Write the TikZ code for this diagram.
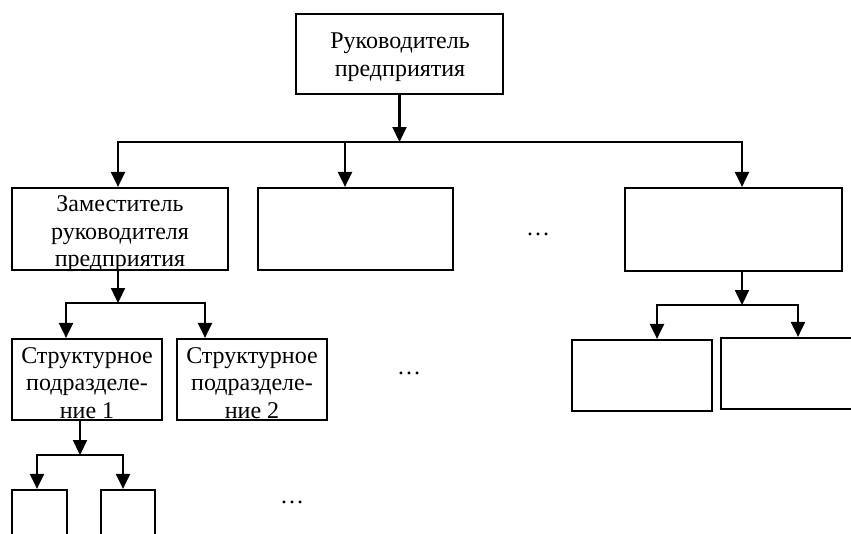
\documentclass[tikz,border=0pt]{standalone}
\usepackage{fontspec}
\setmainfont{Liberation Serif}
\usetikzlibrary{arrows.meta}
\begin{document}
\begin{tikzpicture}[x=1pt,y=-1pt,
  box/.style={draw, line width=2.2pt, inner sep=0pt},
  txt/.style={align=center, inner sep=0pt, font=\fontsize{24}{27.5}\selectfont},
  conn/.style={line width=2.2pt},
  arr/.style={conn, -{Triangle[width=14pt,length=15pt]}},
  dotsnode/.style={inner sep=0pt, font=\fontsize{24}{27.5}\selectfont}]
\useasboundingbox (0,0) rectangle (851,533);
\clip (0,0) rectangle (851,533);
% boxes
\node[box, minimum width=207pt, minimum height=80pt] (top) at (399.5,54) {};
\node[box, minimum width=216pt, minimum height=82pt] (b1) at (120,229) {};
\node[box, minimum width=195pt, minimum height=82pt] (b2) at (355.5,229) {};
\node[box, minimum width=217pt, minimum height=83pt] (b3) at (733.5,229.5) {};
\node[box, minimum width=150pt, minimum height=81pt] (s1) at (87,379.5) {};
\node[box, minimum width=150pt, minimum height=81pt] (s2) at (252,379.5) {};
\node[box, minimum width=55pt, minimum height=70pt] (t1) at (39.5,525) {};
\node[box, minimum width=54pt, minimum height=70pt] (t2) at (128,525) {};
\node[box, minimum width=140pt, minimum height=71pt] (r1) at (642,375.5) {};
\node[box, minimum width=179pt, minimum height=71pt] (r2) at (810.5,373.5) {};
% texts
\node[txt] (toptxt) at (400,57) {Руководитель\\предприятия};
\node[txt] (b1txt) at (120,234) {Заместитель\\руководителя\\предприятия};
\node[txt] (s1txt) at (87,383) {Структурное\\подразделе-\\ние 1};
\node[txt] (s2txt) at (252,383) {Структурное\\подразделе-\\ние 2};
\node[dotsnode] (e1) at (538,234) {…};
\node[dotsnode] (e2) at (409,373) {…};
\node[dotsnode] (e3) at (292,502) {…};
% connectors level 1
\coordinate (j0) at (399.5,142);
\coordinate (h1) at (118,142);
\coordinate (h2) at (345,142);
\coordinate (h3) at (742,142);
\draw[arr] (top.south) -- (j0);
\draw[arr] (h2) -- (h1) -- (h1 |- b1.north);
\draw[arr] (h2) -- (h3) -- (h3 |- b3.north);
\draw[arr] (h2) -- (h2 |- b2.north);
% from b1
\coordinate (j1) at (118,303);
\coordinate (k1) at (66,303);
\coordinate (k2) at (205,303);
\draw[arr] (j1 |- b1.south) -- (j1);
\draw[arr] (j1) -- (k1) -- (k1 |- s1.north);
\draw[arr] (j1) -- (k2) -- (k2 |- s2.north);
% from s1
\coordinate (j2) at (80,455);
\coordinate (m1) at (37,455);
\coordinate (m2) at (123,455);
\draw[arr] (j2 |- s1.south) -- (j2);
\draw[arr] (j2) -- (m1) -- (m1 |- t1.north);
\draw[arr] (j2) -- (m2) -- (m2 |- t2.north);
% from b3
\coordinate (j3) at (742,305);
\coordinate (n1) at (657,305);
\coordinate (n2) at (798,305);
\draw[arr] (j3 |- b3.south) -- (j3);
\draw[arr] (j3) -- (n1) -- (n1 |- r1.north);
\draw[arr] (j3) -- (n2) -- (n2 |- r2.north);
\end{tikzpicture}
\end{document}
